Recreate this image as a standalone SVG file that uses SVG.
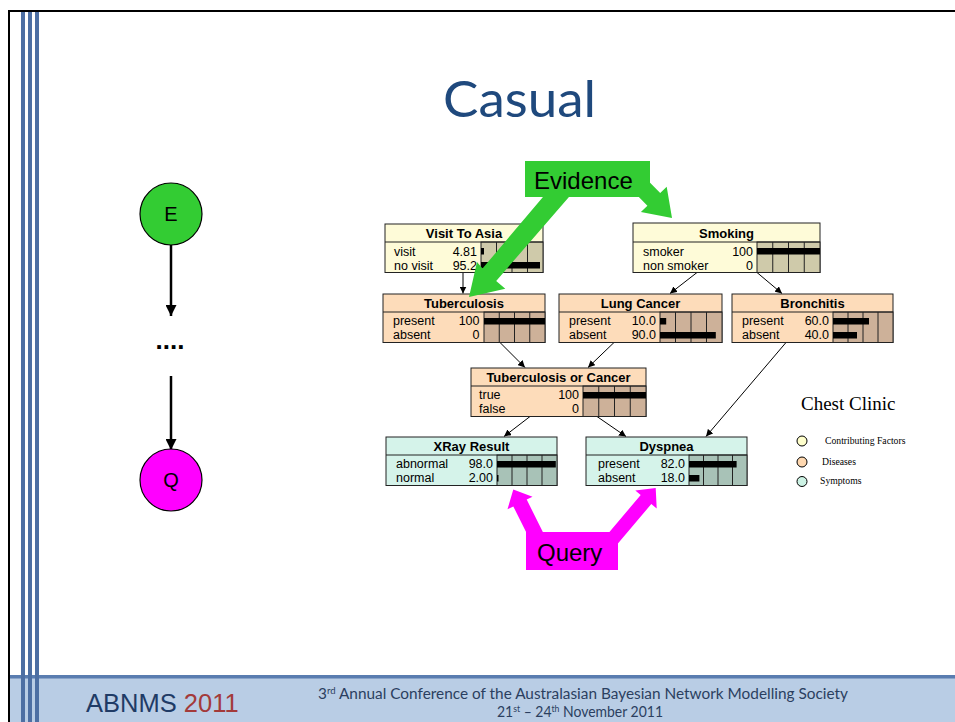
<svg xmlns="http://www.w3.org/2000/svg" width="955" height="722" viewBox="0 0 955 722">
  <defs>
    <marker id="tip" viewBox="0 0 8 8" refX="8" refY="4" markerWidth="7" markerHeight="7" markerUnits="userSpaceOnUse" orient="auto">
      <path d="M0,0 L8,4 L0,8 z" fill="#000"/>
    </marker>
    <marker id="tipBig" viewBox="0 0 10 10" refX="10" refY="5" markerWidth="11" markerHeight="11" markerUnits="userSpaceOnUse" orient="auto">
      <path d="M0,0 L10,5 L0,10 z" fill="#000"/>
    </marker>
  </defs>
  <style>
    .stripe { fill: #4d6fa3; }
    .lbl { font-family: "Liberation Sans", Arial, sans-serif; font-size: 12.5px; fill: #000; }
    .ttl { font-family: "Liberation Sans", Arial, sans-serif; font-size: 13px; font-weight: bold; fill: #000; text-anchor: middle; }
    .val { text-anchor: end; }
    .box { stroke: #222; stroke-width: 1; }
    .grid { stroke: #222; stroke-width: 1; fill: none; }
    .bar { fill: #000; }
    .yel { fill: #fefbd8; }
    .yelB { fill: #cfcaaa; }
    .pch { fill: #fddcba; }
    .pchB { fill: #cdb199; }
    .aq { fill: #d5f3ea; }
    .aqB { fill: #a8c2b7; }
    .link { stroke: #000; stroke-width: 1; fill: none; marker-end: url(#tip); }
    .flow { stroke: #000; stroke-width: 2.5; fill: none; marker-end: url(#tipBig); }
    .big { font-family: "Liberation Sans", Arial, sans-serif; font-size: 24px; fill: #000; }
    .leg { font-family: "Liberation Serif", "Times New Roman", serif; fill: #000; }
  </style>

  <!-- slide background and frame -->
  <rect x="0" y="0" width="955" height="722" fill="#fff"/>
  <rect x="8" y="677" width="947" height="45" fill="#b9cde5"/>
  <rect x="8" y="675" width="947" height="3.5" fill="#5a7db0"/>
  <rect x="8" y="10" width="947" height="2" fill="#000"/>
  <rect x="8" y="10" width="2" height="712" fill="#000"/>
  <rect class="stripe" x="21" y="12" width="4" height="710"/>
  <rect class="stripe" x="28" y="12" width="4" height="710"/>
  <rect class="stripe" x="35" y="12" width="4" height="710"/>

  <!-- heading -->
  <text x="519.5" y="117" font-family="Lato, 'Open Sans', sans-serif" font-size="50" fill="#1f497d" text-anchor="middle" textLength="153" lengthAdjust="spacingAndGlyphs">Casual</text>

  <!-- evidence to query chain -->
  <g id="chain-links">
    <path class="flow" d="M171 245 V316"/>
    <path class="flow" d="M171 376 V450"/>
  </g>
  <g id="node-e">
    <circle cx="171" cy="214" r="31" fill="#33cc33" stroke="#000" stroke-width="1.2"/>
    <text x="171" y="221" font-family="'Liberation Sans', Arial, sans-serif" font-size="20" text-anchor="middle">E</text>
  </g>
  <g id="node-dots">
    <text x="170" y="349" font-family="'Liberation Sans', Arial, sans-serif" font-size="26" font-weight="bold" text-anchor="middle">....</text>
  </g>
  <g id="node-q">
    <circle cx="171" cy="480" r="31" fill="#ff00ff" stroke="#000" stroke-width="1.2"/>
    <text x="171" y="487" font-family="'Liberation Sans', Arial, sans-serif" font-size="20" text-anchor="middle">Q</text>
  </g>

  <!-- network links -->
  <g id="links">
    <path class="link" d="M463 272.5 L463 293.5"/>
    <path class="link" d="M697 272.5 L670 293.5"/>
    <path class="link" d="M757 272.5 L782 293.5"/>
    <path class="link" d="M500 342.5 L525 367.5"/>
    <path class="link" d="M614 342.5 L588 367.5"/>
    <path class="link" d="M786 342.5 L706 436.5"/>
    <path class="link" d="M530 416.5 L504 436.5"/>
    <path class="link" d="M597 416.5 L626 436.5"/>
  </g>

  <!-- Visit To Asia -->
  <g id="visit-to-asia">
    <rect class="box yel" x="385" y="224" width="158" height="48.5"/>
    <rect class="box yelB" x="481" y="242" width="62" height="30.5"/>
    <path class="grid" d="M385 242H543 M496.5 242V272.5 M512 242V272.5 M527.5 242V272.5"/>
    <rect class="bar" x="481" y="248" width="3" height="6.5"/>
    <rect class="bar" x="481" y="262" width="59" height="6.5"/>
    <text class="ttl" x="464" y="238">Visit To Asia</text>
    <text class="lbl" x="394" y="256">visit</text>
    <text class="lbl val" x="477" y="256">4.81</text>
    <text class="lbl" x="394" y="270">no visit</text>
    <text class="lbl val" x="477" y="270">95.2</text>
  </g>

  <!-- Smoking -->
  <g id="smoking">
    <rect class="box yel" x="633" y="223" width="187" height="49.5"/>
    <rect class="box yelB" x="757" y="242" width="63" height="30.5"/>
    <path class="grid" d="M633 242H820 M772.75 242V272.5 M788.5 242V272.5 M804.25 242V272.5"/>
    <rect class="bar" x="757" y="248" width="63" height="6.5"/>
    <text class="ttl" x="726.5" y="238">Smoking</text>
    <text class="lbl" x="643" y="256">smoker</text>
    <text class="lbl val" x="753" y="256">100</text>
    <text class="lbl" x="643" y="270">non smoker</text>
    <text class="lbl val" x="753" y="270">0</text>
  </g>

  <!-- Tuberculosis -->
  <g id="tuberculosis">
    <rect class="box pch" x="383" y="294" width="162" height="48.5"/>
    <rect class="box pchB" x="484" y="312" width="61" height="30.5"/>
    <path class="grid" d="M383 312H545 M499.25 312V342.5 M514.5 312V342.5 M529.75 312V342.5"/>
    <rect class="bar" x="484" y="318" width="61" height="6.5"/>
    <text class="ttl" x="464" y="308">Tuberculosis</text>
    <text class="lbl" x="393" y="325">present</text>
    <text class="lbl val" x="479.5" y="325">100</text>
    <text class="lbl" x="393" y="339">absent</text>
    <text class="lbl val" x="479.5" y="339">0</text>
  </g>

  <!-- Lung Cancer -->
  <g id="lung-cancer">
    <rect class="box pch" x="559" y="294" width="163" height="48.5"/>
    <rect class="box pchB" x="660" y="312" width="62" height="30.5"/>
    <path class="grid" d="M559 312H722 M675.5 312V342.5 M691 312V342.5 M706.5 312V342.5"/>
    <rect class="bar" x="660" y="318" width="6.2" height="6.5"/>
    <rect class="bar" x="660" y="332" width="55.8" height="6.5"/>
    <text class="ttl" x="640.5" y="308">Lung Cancer</text>
    <text class="lbl" x="569" y="325">present</text>
    <text class="lbl val" x="656" y="325">10.0</text>
    <text class="lbl" x="569" y="339">absent</text>
    <text class="lbl val" x="656" y="339">90.0</text>
  </g>

  <!-- Bronchitis -->
  <g id="bronchitis">
    <rect class="box pch" x="732" y="294" width="161" height="48.5"/>
    <rect class="box pchB" x="833" y="312" width="60" height="30.5"/>
    <path class="grid" d="M732 312H893 M848 312V342.5 M863 312V342.5 M878 312V342.5"/>
    <rect class="bar" x="833" y="318" width="36" height="6.5"/>
    <rect class="bar" x="833" y="332" width="24" height="6.5"/>
    <text class="ttl" x="812.5" y="308">Bronchitis</text>
    <text class="lbl" x="742" y="325">present</text>
    <text class="lbl val" x="829" y="325">60.0</text>
    <text class="lbl" x="742" y="339">absent</text>
    <text class="lbl val" x="829" y="339">40.0</text>
  </g>

  <!-- Tuberculosis or Cancer -->
  <g id="tuberculosis-or-cancer">
    <rect class="box pch" x="471" y="368" width="175" height="48.5"/>
    <rect class="box pchB" x="583" y="386" width="63" height="30.5"/>
    <path class="grid" d="M471 386H646 M598.75 386V416.5 M614.5 386V416.5 M630.25 386V416.5"/>
    <rect class="bar" x="583" y="392" width="63" height="6.5"/>
    <text class="ttl" x="558.5" y="382">Tuberculosis or Cancer</text>
    <text class="lbl" x="479" y="399">true</text>
    <text class="lbl val" x="579" y="399">100</text>
    <text class="lbl" x="479" y="413">false</text>
    <text class="lbl val" x="579" y="413">0</text>
  </g>

  <!-- XRay Result -->
  <g id="xray-result">
    <rect class="box aq" x="386" y="437" width="171" height="48.5"/>
    <rect class="box aqB" x="497" y="455" width="60" height="30.5"/>
    <path class="grid" d="M386 455H557 M512 455V485.5 M527 455V485.5 M542 455V485.5"/>
    <rect class="bar" x="497" y="461" width="58.8" height="6.5"/>
    <rect class="bar" x="497" y="475" width="1.5" height="6.5"/>
    <text class="ttl" x="471.5" y="451">XRay Result</text>
    <text class="lbl" x="396" y="468">abnormal</text>
    <text class="lbl val" x="493" y="468">98.0</text>
    <text class="lbl" x="396" y="482">normal</text>
    <text class="lbl val" x="493" y="482">2.00</text>
  </g>

  <!-- Dyspnea -->
  <g id="dyspnea">
    <rect class="box aq" x="586" y="437" width="161" height="48.5"/>
    <rect class="box aqB" x="689" y="455" width="58" height="30.5"/>
    <path class="grid" d="M586 455H747 M703.5 455V485.5 M718 455V485.5 M732.5 455V485.5"/>
    <rect class="bar" x="689" y="461" width="47.6" height="6.5"/>
    <rect class="bar" x="689" y="475" width="10.4" height="6.5"/>
    <text class="ttl" x="666.5" y="451">Dyspnea</text>
    <text class="lbl" x="598" y="468">present</text>
    <text class="lbl val" x="685" y="468">82.0</text>
    <text class="lbl" x="598" y="482">absent</text>
    <text class="lbl val" x="685" y="482">18.0</text>
  </g>

  <!-- legend -->
  <g id="legend">
    <text class="leg" x="801" y="410" font-size="19">Chest Clinic</text>
    <circle cx="802" cy="441" r="5" fill="#ffffcc" stroke="#000"/>
    <circle cx="802" cy="462" r="5" fill="#ffd8b0" stroke="#000"/>
    <circle cx="802" cy="481.5" r="5" fill="#ccf2e4" stroke="#000"/>
    <text class="leg" x="825" y="444" font-size="9.7">Contributing Factors</text>
    <text class="leg" x="822" y="465" font-size="9.7">Diseases</text>
    <text class="leg" x="820" y="484" font-size="9.7">Symptoms</text>
  </g>

  <!-- evidence callout -->
  <g id="evidence">
    <polygon points="469,297 505.3,288.8 496.2,280.9 574.8,190.3 559.7,177.2 482.5,268.5 477,262" fill="#33cc33"/>
    <polygon points="672,218 666.7,186.8 660.2,193.1 639.2,171.7 626.4,184.3 647.4,205.7 640.9,212" fill="#33cc33"/>
    <rect x="525" y="161" width="125" height="36" fill="#33cc33"/>
    <text class="big" x="534" y="189">Evidence</text>
  </g>

  <!-- query callout -->
  <g id="query">
    <polygon points="513.3,489.6 532.5,496.7 526.7,499.6 544.6,535.4 531.2,542.2 513.3,506.4 507.5,509.3" fill="#ff00ff"/>
    <polygon points="655.7,488.1 656.7,508.5 651.3,504 615.8,546 605.2,537 640.7,495 635.3,490.5" fill="#ff00ff"/>
    <rect x="526" y="532" width="92" height="38" fill="#ff00ff"/>
    <text class="big" x="537" y="561">Query</text>
  </g>

  <!-- footer -->
  <g id="footer">
    <text x="86" y="712" font-family="'Liberation Sans', Arial, sans-serif" font-size="25.5" fill="#1f3b66">ABNMS <tspan fill="#a33a3a">2011</tspan></text>
    <text x="318" y="699" font-family="Lato, 'Open Sans', sans-serif" font-size="14.5" fill="#2b3f60" textLength="530" lengthAdjust="spacingAndGlyphs">3<tspan font-size="9" dy="-5">rd</tspan><tspan dy="5"> Annual Conference of the Australasian Bayesian Network Modelling Society</tspan></text>
    <text x="497" y="717" font-family="Lato, 'Open Sans', sans-serif" font-size="14.5" fill="#2b3f60" textLength="166" lengthAdjust="spacingAndGlyphs">21<tspan font-size="9" dy="-5">st</tspan><tspan dy="5"> – 24</tspan><tspan font-size="9" dy="-5">th</tspan><tspan dy="5"> November 2011</tspan></text>
  </g>
</svg>
